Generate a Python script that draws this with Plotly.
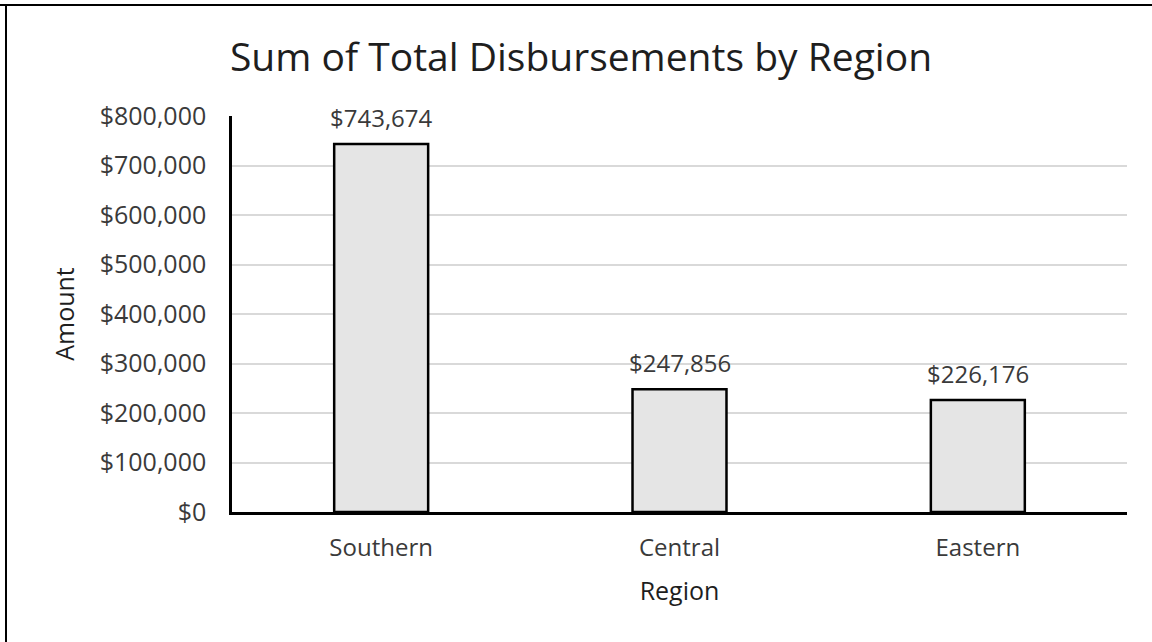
import plotly.graph_objects as go

regions = ["Southern", "Central", "Eastern"]
amounts = [743674, 247856, 226176]
tick_vals = [0, 100000, 200000, 300000, 400000, 500000, 600000, 700000, 800000]
tick_text = ["$0", "$100,000", "$200,000", "$300,000", "$400,000", "$500,000", "$600,000", "$700,000", "$800,000"]

FONT = "'Open Sans', sans-serif"
TXT = "#3a3a3a"

fig = go.Figure()
fig.add_trace(go.Bar(
    x=regions, y=amounts,
    marker=dict(color="#e5e5e5", line=dict(color="#000000", width=2.5)),
    width=0.315,
    hoverinfo="skip",
))

for r, a in zip(regions, amounts):
    fig.add_annotation(x=r, y=a, text=f"${a:,}", showarrow=False,
                       yanchor="bottom", yshift=8,
                       font=dict(family=FONT, size=24, color=TXT))

fig.update_layout(
    width=1152, height=642,
    margin=dict(l=232, r=25, t=116, b=130),
    paper_bgcolor="white", plot_bgcolor="white",
    showlegend=False,
    title=dict(text="Sum of Total Disbursements by Region", xref="container", x=581 / 1152,
               xanchor="center", y=1 - 57 / 642, yanchor="middle",
               font=dict(family=FONT, size=39, color="#1e1e1e")),
    font=dict(family=FONT, color=TXT),
)
fig.update_xaxes(
    showline=True, linecolor="#000000", linewidth=2.5,
    ticks="", tickfont=dict(size=24, color=TXT), ticklabelstandoff=12,
    title=dict(text="Region", font=dict(size=25, color="#1e1e1e"), standoff=21),
    showgrid=False,
)
fig.update_yaxes(
    range=[0, 800000], tickvals=tick_vals, ticktext=tick_text,
    showline=True, linecolor="#000000", linewidth=2.5,
    gridcolor="#d9d9d9", gridwidth=1.5,
    ticks="", ticklabelstandoff=18,
    tickfont=dict(size=25, color=TXT),
    title=dict(text="Amount", font=dict(size=25, color="#1e1e1e"), standoff=18),
    zeroline=False,
)
# chart frame (top and left edges visible)
fig.add_shape(type="line", xref="paper", yref="paper",
              x0=-232/895, x1=1.1, y0=1 + 111/396, y1=1 + 111/396,
              line=dict(color="#000000", width=2))
fig.add_shape(type="line", xref="paper", yref="paper",
              x0=-226/895, x1=-226/895, y0=-0.4, y1=1 + 111/396,
              line=dict(color="#000000", width=2))

fig.write_html("out.html", config={"displayModeBar": False},
               post_script="document.body.style.margin='0';")
